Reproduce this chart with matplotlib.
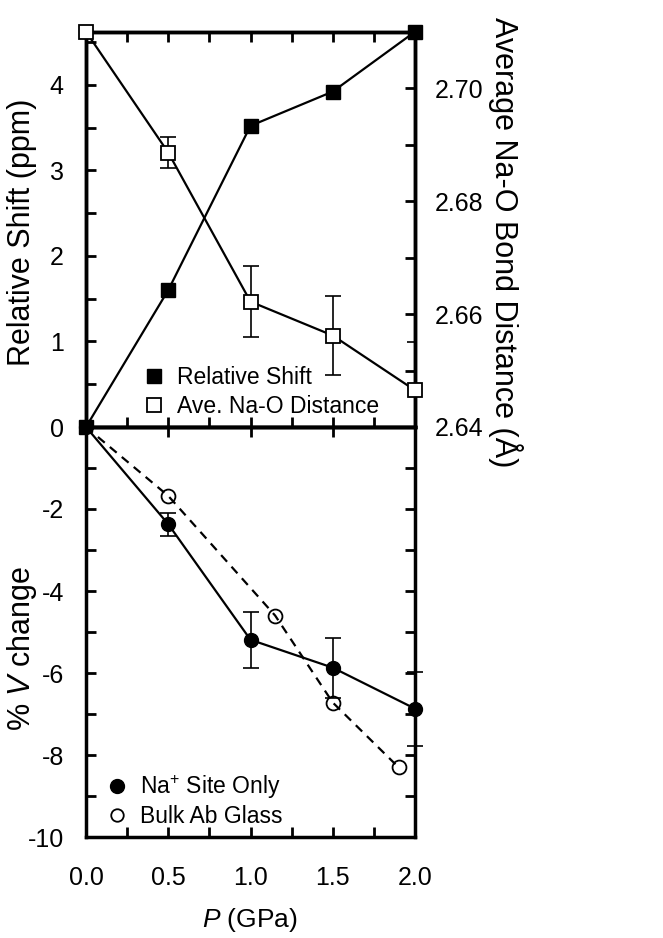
import matplotlib
matplotlib.use('Agg')
import matplotlib.pyplot as plt
from matplotlib.ticker import MultipleLocator, FormatStrFormatter
from matplotlib.lines import Line2D

# Fuente tipo Arial y texto matemático con la misma familia
plt.rcParams['font.family'] = ['Liberation Sans', 'DejaVu Sans']
plt.rcParams['mathtext.fontset'] = 'custom'
plt.rcParams['mathtext.rm'] = 'Liberation Sans'
plt.rcParams['mathtext.it'] = 'Liberation Sans:italic'
plt.rcParams['axes.unicode_minus'] = False

# --- Datos ---
presion = [0.0, 0.5, 1.0, 1.5, 2.0]
despl_rel = [0.0, 1.6, 3.52, 3.92, 4.62]            # ppm
dist_nao = [2.710, 2.6886, 2.6622, 2.6562, 2.6465]  # Å
dist_nao_err = [0.0, 0.0027, 0.0063, 0.0070, 0.0085]
vol_na = [0.0, -2.37, -5.19, -5.87, -6.87]          # % V
vol_na_err = [0.0, 0.28, 0.69, 0.73, 0.90]
presion_bulk = [0.0, 0.5, 1.15, 1.5, 1.9]
vol_bulk = [0.0, -1.68, -4.6, -6.72, -8.3]

FS_TICK = 18
FS_LEG = 16.5
FS_YLAB = 22
FS_XLAB = 19
LW_SPINE = 2.5
W, H = 663, 938

fig = plt.figure(figsize=(W / 100, H / 100), dpi=100)
izq, der = 86, 415
y_top, y_cero, y_fondo = 31.7, 427, 837
ax1 = fig.add_axes([izq / W, 1 - y_cero / H, (der - izq) / W, (y_cero - y_top) / H])
ax3 = fig.add_axes([izq / W, 1 - y_fondo / H, (der - izq) / W, (y_fondo - y_cero) / H])
ax2 = ax1.twinx()

# --- Panel superior ---
ax1.plot(presion, despl_rel, '-', color='black', lw=1.6, zorder=3)
ax1.plot(presion, despl_rel, 's', color='black', ms=10, clip_on=False, zorder=4)
ax2.errorbar(presion[1:], dist_nao[1:], yerr=dist_nao_err[1:], fmt='none',
             ecolor='black', elinewidth=1.2, capsize=6, capthick=1.2)
ax2.plot(presion, dist_nao, '-', color='black', lw=1.6, zorder=3)
ax2.plot(presion, dist_nao, 's', mfc='white', mec='black', mew=1.3, ms=10,
         clip_on=False, zorder=4)

ax1.set_xlim(0, 2.0)
ax1.set_ylim(0, 4.62)
ax2.set_ylim(2.64, 2.71)

ax1.xaxis.set_major_locator(MultipleLocator(0.25))
ax1.yaxis.set_minor_locator(MultipleLocator(0.5))
ax1.tick_params(axis='x', which='both', direction='in', top=True, bottom=True,
                labelbottom=False, length=7, width=2)
ax1.tick_params(axis='y', which='both', direction='in', left=True, right=False,
                length=7, width=2, labelsize=FS_TICK, pad=16)
ax1.set_yticks([0, 1, 2, 3, 4])

ax2.yaxis.set_major_locator(MultipleLocator(0.02))
ax2.yaxis.set_minor_locator(MultipleLocator(0.01))
ax2.yaxis.set_major_formatter(FormatStrFormatter('%.2f'))
ax2.tick_params(axis='y', which='both', direction='in', length=7, width=2,
                labelsize=FS_TICK, pad=14)
ax2.tick_params(axis='x', which='both', top=False, bottom=False, labelbottom=False)

ax2.legend(handles=[Line2D([], [], ls='none', marker='s', color='black', ms=9.5),
                    Line2D([], [], ls='none', marker='s', mfc='white', mec='black', mew=1.3, ms=9.5)],
           labels=['Relative Shift', 'Ave. Na-O Distance'],
           loc='lower left', bbox_to_anchor=(0.15, 0.0), frameon=False,
           fontsize=FS_LEG, handlelength=0.8, handletextpad=0.6, labelspacing=0.25,
           borderaxespad=0)

# --- Panel inferior ---
ax3.errorbar(presion[1:], vol_na[1:], yerr=vol_na_err[1:], fmt='none',
             ecolor='black', elinewidth=1.2, capsize=6, capthick=1.2, clip_on=False)
ax3.plot(presion, vol_na, '-', color='black', lw=1.6, zorder=3)
ax3.plot(presion, vol_na, 'o', color='black', ms=10, clip_on=False, zorder=4)
ax3.plot(presion_bulk, vol_bulk, '--', color='black', lw=1.6, dashes=(4, 3), zorder=5)
ax3.plot(presion_bulk[1:], vol_bulk[1:], 'o', mfc='none', mec='black', mew=1.3,
         ms=10, zorder=6)

ax3.set_xlim(0, 2.0)
ax3.set_ylim(-10, 0)
ax3.xaxis.set_major_locator(MultipleLocator(0.5))
ax3.xaxis.set_minor_locator(MultipleLocator(0.25))
ax3.xaxis.set_major_formatter(FormatStrFormatter('%.1f'))
ax3.yaxis.set_minor_locator(MultipleLocator(1))
ax3.tick_params(axis='x', which='both', direction='in', top=False, bottom=True,
                length=7, width=2, labelsize=FS_TICK, pad=21)
ax3.tick_params(axis='y', which='both', direction='in', left=True, right=True,
                length=7, width=2, labelsize=FS_TICK, pad=16)
ax3.set_yticks([-10, -8, -6, -4, -2])
sec = ax3.secondary_xaxis('top')
sec.set_xticks([0.5, 1.0, 1.5])
sec.tick_params(direction='in', length=7, width=2, labeltop=False)
sec.spines['top'].set_linewidth(LW_SPINE)

ax3.legend(handles=[Line2D([], [], ls='none', marker='o', color='black', ms=10),
                    Line2D([], [], ls='none', marker='o', mfc='white', mec='black', mew=1.3, ms=9)],
           labels=['Na$^{+}$ Site Only', 'Bulk Ab Glass'],
           loc='lower left', bbox_to_anchor=(0.04, 0.0), frameon=False,
           fontsize=FS_LEG, handlelength=0.8, handletextpad=0.6, labelspacing=0.15,
           borderaxespad=0)

for ax in (ax1, ax2, ax3):
    for s in ax.spines.values():
        s.set_linewidth(LW_SPINE)

# Etiquetas de los ejes
fig.text(22 / W, 1 - 232 / H, 'Relative Shift (ppm)', rotation=90, ha='center',
         va='center', fontsize=FS_YLAB)
fig.text(22 / W, 1 - 648 / H, '% $V$ change', rotation=90, ha='center',
         va='center', fontsize=FS_YLAB)
fig.text(505 / W, 1 - 242 / H, 'Average Na-O Bond Distance (Å)', rotation=270,
         ha='center', va='center', fontsize=FS_YLAB)
fig.text(250 / W, 1 - 920 / H, '$P$ (GPa)', ha='center', va='center', fontsize=FS_XLAB)

fig.savefig('out.png', dpi=100, facecolor='white')
